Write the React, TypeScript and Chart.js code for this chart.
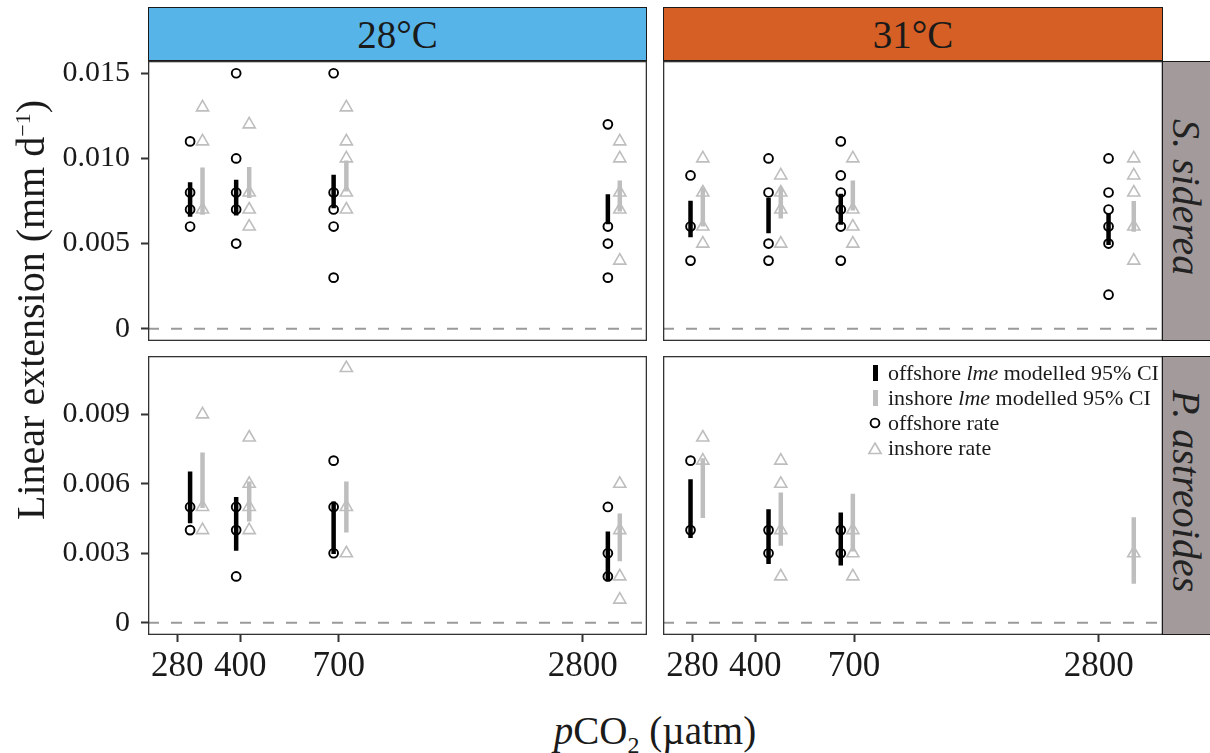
import React, { useEffect, useRef } from "react";
import { Chart, registerables } from "chart.js";

Chart.register(...registerables);

const SERIF = "'Liberation Serif', 'Times New Roman', Times, serif";
const INK = "#1a1a1a";
const OFF_COLOR = "#000000";
const IN_COLOR = "#bebebe";

const X_MIN = 237;
const X_MAX = 4030;

const xTicks = [280, 400, 700, 2800];
const xTickLabels = ["280", "400", "700", "2800"];

const yTicksSid = [0, 0.005, 0.01, 0.015];
const yLabelsSid = ["0", "0.005", "0.010", "0.015"];
const yTicksAst = [0, 0.003, 0.006, 0.009];
const yLabelsAst = ["0", "0.003", "0.006", "0.009"];

const temps = ["28°C", "31°C"];
const species = ["S. siderea", "P. astreoides"];

// measured pCO2 (µatm) of each treatment
const pco2Off28 = [301, 391, 680, 3227];
const pco2In28 = [323, 421, 731, 3453];
const pco2Off31 = [277, 431, 649, 2960];
const pco2In31 = [297, 462, 695, 3415];

// S. siderea, 28°C
const sid28OffRates = [
  [0.011, 0.008, 0.007, 0.006],
  [0.015, 0.01, 0.008, 0.007, 0.005],
  [0.015, 0.008, 0.007, 0.006, 0.003],
  [0.012, 0.006, 0.005, 0.003],
];
const sid28InRates = [
  [0.013, 0.011, 0.007],
  [0.012, 0.008, 0.007, 0.006],
  [0.013, 0.011, 0.01, 0.008, 0.007],
  [0.011, 0.01, 0.008, 0.007, 0.004],
];
const sid28OffLo = [0.00657, 0.00665, 0.00708, 0.00614];
const sid28OffHi = [0.0086, 0.00875, 0.00904, 0.0079];
const sid28InLo = [0.00669, 0.00767, 0.00806, 0.00688];
const sid28InHi = [0.00947, 0.00949, 0.00988, 0.0087];

// S. siderea, 31°C
const sid31OffRates = [
  [0.009, 0.006, 0.004],
  [0.01, 0.008, 0.005, 0.004],
  [0.011, 0.009, 0.008, 0.007, 0.006, 0.004],
  [0.01, 0.008, 0.007, 0.006, 0.005, 0.002],
];
const sid31InRates = [
  [0.01, 0.008, 0.006, 0.005],
  [0.009, 0.008, 0.007, 0.005],
  [0.01, 0.007, 0.006, 0.005],
  [0.01, 0.009, 0.008, 0.006, 0.004],
];
const sid31OffLo = [0.00537, 0.0056, 0.0061, 0.00492];
const sid31OffHi = [0.00751, 0.00767, 0.00792, 0.00675];
const sid31InLo = [0.006, 0.00647, 0.00694, 0.0057];
const sid31InHi = [0.0083, 0.0083, 0.0087, 0.0075];

// P. astreoides, 28°C
const ast28OffRates = [
  [0.005, 0.004],
  [0.005, 0.004, 0.002],
  [0.007, 0.005, 0.003],
  [0.005, 0.003, 0.002],
];
const ast28InRates = [
  [0.009, 0.005, 0.004],
  [0.008, 0.006, 0.005, 0.004],
  [0.011, 0.005, 0.003],
  [0.006, 0.004, 0.002, 0.001],
];
const ast28OffLo = [0.0043, 0.00311, 0.00297, 0.00179];
const ast28OffHi = [0.00653, 0.00543, 0.00524, 0.00394];
const ast28InLo = [0.00495, 0.00437, 0.0039, 0.00265];
const ast28InHi = [0.00735, 0.0061, 0.0061, 0.00472];

// P. astreoides, 31°C
const ast31OffRates = [[0.007, 0.004], [0.004, 0.003], [0.004, 0.003], []];
const ast31InRates = [
  [0.008, 0.007],
  [0.007, 0.006, 0.004, 0.002],
  [0.004, 0.003, 0.002],
  [0.003],
];
const ast31OffLo = [0.00366, 0.00254, 0.00247, null];
const ast31OffHi = [0.0062, 0.0049, 0.00476, null];
const ast31InLo = [0.00452, 0.00333, 0.00308, 0.00168];
const ast31InHi = [0.0071, 0.00562, 0.00557, 0.00456];

const Y_SID = [-0.00072, 0.01572];
const Y_AST = [-0.00053, 0.01152];

type PanelSpec = {
  offX: number[];
  inX: number[];
  offRates: number[][];
  inRates: number[][];
  offLo: (number | null)[];
  offHi: (number | null)[];
  inLo: (number | null)[];
  inHi: (number | null)[];
  yRange: number[];
  yTicks: number[];
  yLabels: string[];
  showX: boolean;
  showY: boolean;
};

function ciData(xs: number[], lo: (number | null)[], hi: (number | null)[]) {
  const out: any[] = [];
  xs.forEach((x, i) => {
    if (lo[i] == null || hi[i] == null) return;
    out.push({ x, y: lo[i] }, { x, y: hi[i] }, { x, y: null });
  });
  return out;
}

function pointData(xs: number[], rates: number[][]) {
  const out: any[] = [];
  xs.forEach((x, i) => rates[i].forEach((y) => out.push({ x, y })));
  return out;
}

const panelBorder = {
  id: "panelBorder",
  afterDatasetsDraw(chart: any) {
    const { ctx, chartArea } = chart;
    const { left, top, right, bottom } = chartArea;
    ctx.save();
    ctx.strokeStyle = "#333333";
    ctx.lineWidth = 1.3;
    ctx.strokeRect(left + 0.65, top + 0.65, right - left - 1.3, bottom - top - 1.3);
    ctx.restore();
  },
};

function buildConfig(p: PanelSpec): any {
  return {
    type: "line",
    data: {
      datasets: [
        {
          data: [
            { x: X_MIN, y: 0 },
            { x: X_MAX, y: 0 },
          ],
          borderColor: "#9a9a9a",
          borderWidth: 2.2,
          borderDash: [11, 12],
          pointRadius: 0,
          order: 5,
        },
        {
          data: ciData(p.inX, p.inLo, p.inHi),
          borderColor: IN_COLOR,
          borderWidth: 4.5,
          borderCapStyle: "butt",
          pointRadius: 0,
          spanGaps: false,
          order: 4,
        },
        {
          data: ciData(p.offX, p.offLo, p.offHi),
          borderColor: OFF_COLOR,
          borderWidth: 4.5,
          borderCapStyle: "butt",
          pointRadius: 0,
          spanGaps: false,
          order: 3,
        },
        {
          data: pointData(p.inX, p.inRates),
          showLine: false,
          pointStyle: "triangle",
          pointRadius: 7,
          pointBorderWidth: 1.6,
          pointBorderColor: IN_COLOR,
          pointBackgroundColor: "rgba(0,0,0,0)",
          borderColor: IN_COLOR,
          order: 2,
        },
        {
          data: pointData(p.offX, p.offRates),
          showLine: false,
          pointStyle: "circle",
          pointRadius: 4.4,
          pointBorderWidth: 1.9,
          pointBorderColor: OFF_COLOR,
          pointBackgroundColor: "rgba(0,0,0,0)",
          borderColor: OFF_COLOR,
          order: 1,
        },
      ],
    },
    options: {
      animation: false,
      responsive: false,
      devicePixelRatio: 1,
      events: [],
      layout: { padding: 0, autoPadding: false },
      plugins: { legend: { display: false }, tooltip: { enabled: false } },
      scales: {
        x: {
          type: "logarithmic",
          min: X_MIN,
          max: X_MAX,
          display: p.showX,
          afterBuildTicks: (s: any) => {
            s.ticks = xTicks.map((v) => ({ value: v }));
          },
          afterFit: (s: any) => {
            if (p.showX) s.height = 60;
            s.paddingLeft = 0;
            s.paddingRight = 0;
          },
          ticks: {
            callback: (_v: any, i: number) => xTickLabels[i],
            font: { family: SERIF, size: 35 },
            color: INK,
            padding: 4,
            maxRotation: 0,
            autoSkip: false,
          },
          grid: {
            drawOnChartArea: false,
            drawTicks: true,
            tickLength: 7,
            tickWidth: 2,
            tickColor: "#333333",
          },
          border: { display: false },
        },
        y: {
          type: "linear",
          min: p.yRange[0],
          max: p.yRange[1],
          display: p.showY,
          afterBuildTicks: (s: any) => {
            s.ticks = p.yTicks.map((v) => ({ value: v }));
          },
          afterFit: (s: any) => {
            if (p.showY) s.width = 118;
            s.paddingTop = 0;
            s.paddingBottom = 0;
          },
          ticks: {
            callback: (_v: any, i: number) => p.yLabels[i],
            font: { family: SERIF, size: 30 },
            color: INK,
            padding: 11,
            autoSkip: false,
          },
          grid: {
            drawOnChartArea: false,
            drawTicks: true,
            tickLength: 7,
            tickWidth: 2,
            tickColor: "#333333",
          },
          border: { display: false },
        },
      },
    },
    plugins: [panelBorder],
  };
}

const panels: { spec: PanelSpec; left: number; top: number; width: number; height: number }[] = [
  {
    left: 30, top: 61, width: 617, height: 280,
    spec: {
      offX: pco2Off28, inX: pco2In28, offRates: sid28OffRates, inRates: sid28InRates,
      offLo: sid28OffLo, offHi: sid28OffHi, inLo: sid28InLo, inHi: sid28InHi,
      yRange: Y_SID, yTicks: yTicksSid, yLabels: yLabelsSid, showX: false, showY: true,
    },
  },
  {
    left: 663, top: 61, width: 500, height: 280,
    spec: {
      offX: pco2Off31, inX: pco2In31, offRates: sid31OffRates, inRates: sid31InRates,
      offLo: sid31OffLo, offHi: sid31OffHi, inLo: sid31InLo, inHi: sid31InHi,
      yRange: Y_SID, yTicks: yTicksSid, yLabels: yLabelsSid, showX: false, showY: false,
    },
  },
  {
    left: 30, top: 356, width: 617, height: 339,
    spec: {
      offX: pco2Off28, inX: pco2In28, offRates: ast28OffRates, inRates: ast28InRates,
      offLo: ast28OffLo, offHi: ast28OffHi, inLo: ast28InLo, inHi: ast28InHi,
      yRange: Y_AST, yTicks: yTicksAst, yLabels: yLabelsAst, showX: true, showY: true,
    },
  },
  {
    left: 663, top: 356, width: 500, height: 339,
    spec: {
      offX: pco2Off31, inX: pco2In31, offRates: ast31OffRates, inRates: ast31InRates,
      offLo: ast31OffLo, offHi: ast31OffHi, inLo: ast31InLo, inHi: ast31InHi,
      yRange: Y_AST, yTicks: yTicksAst, yLabels: yLabelsAst, showX: true, showY: false,
    },
  },
];

function PanelChart(props: { spec: PanelSpec; left: number; top: number; width: number; height: number }) {
  const ref = useRef<HTMLCanvasElement>(null);
  useEffect(() => {
    const chart = new Chart(ref.current as HTMLCanvasElement, buildConfig(props.spec));
    return () => chart.destroy();
  }, []);
  return (
    <canvas
      ref={ref}
      width={props.width}
      height={props.height}
      style={{ position: "absolute", left: props.left, top: props.top, width: props.width, height: props.height }}
    />
  );
}

const topStrips = [
  { label: temps[0], left: 148, color: "#56B4E9" },
  { label: temps[1], left: 663, color: "#D55F24" },
];
const sideStrips = [
  { label: species[0], top: 61, height: 280 },
  { label: species[1], top: 356, height: 279 },
];

const legendItems = [
  { kind: "offBar", pre: "offshore ", em: "lme", post: " modelled 95% CI" },
  { kind: "inBar", pre: "inshore ", em: "lme", post: " modelled 95% CI" },
  { kind: "offPt", pre: "offshore rate", em: "", post: "" },
  { kind: "inPt", pre: "inshore rate", em: "", post: "" },
];

function LegendSymbol({ kind }: { kind: string }) {
  if (kind === "offBar" || kind === "inBar") {
    return <div style={{ width: 5, height: 16, background: kind === "offBar" ? OFF_COLOR : IN_COLOR }} />;
  }
  if (kind === "offPt") {
    return (
      <svg width="14" height="14">
        <circle cx="7" cy="7" r="4.4" fill="none" stroke={OFF_COLOR} strokeWidth="1.9" />
      </svg>
    );
  }
  return (
    <svg width="16" height="14">
      <polygon points="8,2 14.1,12.5 1.9,12.5" fill="none" stroke={IN_COLOR} strokeWidth="1.6" />
    </svg>
  );
}

export default function App() {
  return (
    <div
      style={{
        position: "absolute",
        left: 0,
        top: 0,
        width: 1210,
        height: 753,
        overflow: "hidden",
        background: "#ffffff",
        fontFamily: SERIF,
        color: INK,
      }}
    >
      {panels.map((p, i) => (
        <PanelChart key={i} {...p} />
      ))}

      {topStrips.map((s, i) => (
        <div
          key={i}
          style={{
            position: "absolute",
            left: s.left,
            top: 7,
            width: i === 0 ? 499 : 500,
            height: 54,
            boxSizing: "border-box",
            background: s.color,
            border: "1.5px solid #1a1a1a",
            display: "flex",
            alignItems: "center",
            justifyContent: "center",
            fontSize: 39,
            lineHeight: "1",
            color: INK,
          }}
        >
          {s.label}
        </div>
      ))}

      {sideStrips.map((s, i) => (
        <div
          key={i}
          style={{
            position: "absolute",
            left: 1162,
            top: s.top,
            width: 52,
            height: s.height,
            boxSizing: "border-box",
            background: "#a39b9b",
            border: "1.5px solid #1a1a1a",
            display: "flex",
            alignItems: "center",
            justifyContent: "center",
          }}
        >
          <span
            style={{
              writingMode: "vertical-rl",
              fontStyle: "italic",
              fontSize: 40,
              lineHeight: "1",
              color: "#222222",
              whiteSpace: "nowrap",
              marginRight: 4,
              marginBottom: 8,
            }}
          >
            {s.label}
          </span>
        </div>
      ))}

      <div
        style={{
          position: "absolute",
          left: 31,
          top: 310,
          transform: "translate(-50%, -50%) rotate(-90deg)",
          whiteSpace: "nowrap",
          fontSize: 40,
          lineHeight: "1",
        }}
      >
        Linear extension (mm d<sup style={{ fontSize: 22 }}>−1</sup>)
      </div>

      <div
        style={{
          position: "absolute",
          left: 655,
          top: 711,
          transform: "translateX(-50%)",
          whiteSpace: "nowrap",
          fontSize: 39,
          lineHeight: "1",
        }}
      >
        <i>p</i>CO<sub style={{ fontSize: 24 }}>2</sub> (µatm)
      </div>

      {legendItems.map((it, i) => (
        <div
          key={i}
          style={{
            position: "absolute",
            left: 866,
            top: 373 + i * 25 - 13,
            height: 26,
            display: "flex",
            alignItems: "center",
            whiteSpace: "nowrap",
            fontSize: 22,
            lineHeight: "26px",
          }}
        >
          <div style={{ width: 18, display: "flex", justifyContent: "center", alignItems: "center" }}>
            <LegendSymbol kind={it.kind} />
          </div>
          <span style={{ marginLeft: 4 }}>
            {it.pre}
            {it.em ? <i>{it.em}</i> : null}
            {it.post}
          </span>
        </div>
      ))}
    </div>
  );
}
